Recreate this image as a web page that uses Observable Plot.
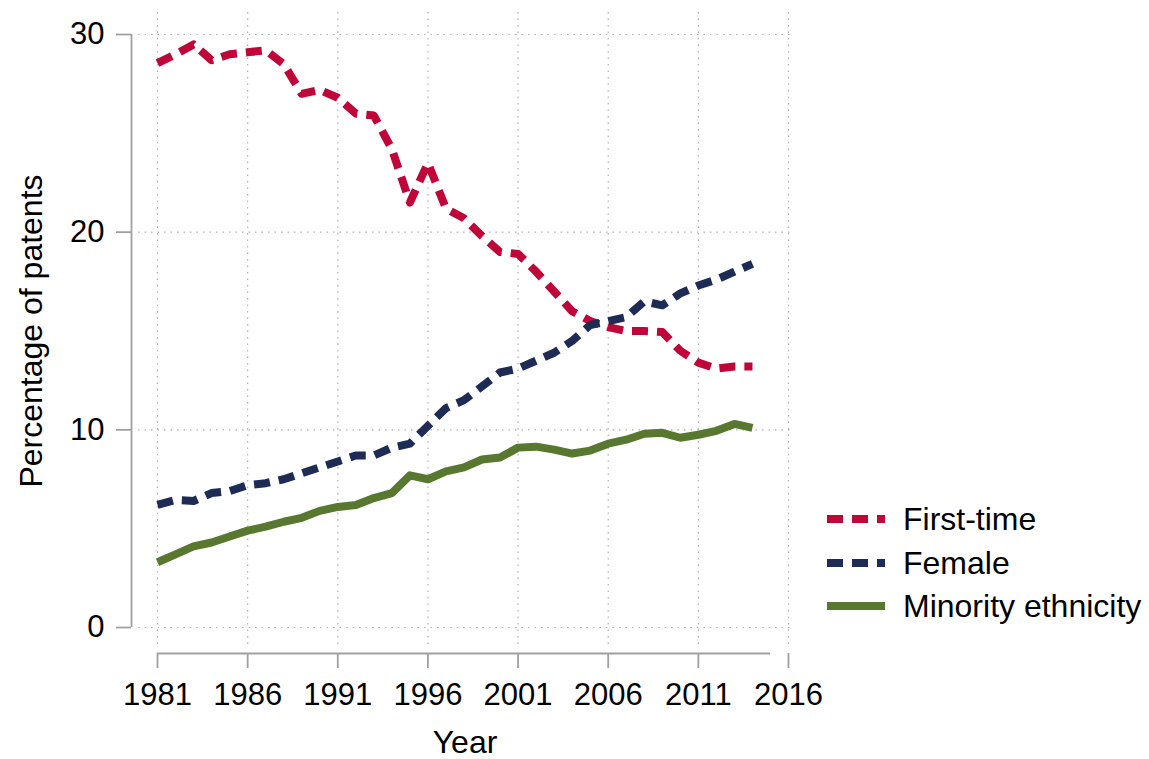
<!DOCTYPE html>
<html>
<head>
<meta charset="utf-8">
<script src="https://cdn.jsdelivr.net/npm/d3@7"></script>
<script src="https://cdn.jsdelivr.net/npm/@observablehq/plot@0.6"></script>
<style>
  html, body { margin: 0; padding: 0; background: #fff; }
  #wrap { position: relative; width: 1149px; height: 759px; font-family: "Liberation Sans", Arial, sans-serif; }
  #legend { position: absolute; left: 827px; top: 0; }
  .item { position: absolute; left: 0; height: 40px; display: flex; align-items: center; white-space: nowrap; font-size: 32px; color: #000; }
  .item svg { display: block; margin-right: 18px; }
</style>
</head>
<body>
<div id="wrap"><div id="legend"></div></div>
<script>
const years = [1981,1982,1983,1984,1985,1986,1987,1988,1989,1990,1991,1992,1993,1994,1995,1996,1997,1998,1999,2000,2001,2002,2003,2004,2005,2006,2007,2008,2009,2010,2011,2012,2013,2014];
const firstTime = [28.55,29.0,29.5,28.7,29.0,29.1,29.2,28.5,27.0,27.2,26.8,26.0,25.9,24.2,21.5,23.5,21.2,20.7,19.8,19.0,18.9,18.0,17.0,16.0,15.5,15.2,15.0,15.0,14.95,14.0,13.4,13.1,13.2,13.2];
const female = [6.2,6.45,6.4,6.8,6.9,7.2,7.3,7.5,7.8,8.1,8.4,8.7,8.7,9.1,9.3,10.2,11.1,11.5,12.2,12.9,13.1,13.5,13.9,14.5,15.3,15.5,15.7,16.5,16.3,16.9,17.3,17.6,18.0,18.4];
const minority = [3.3,3.7,4.1,4.3,4.6,4.9,5.1,5.35,5.55,5.9,6.1,6.2,6.55,6.8,7.7,7.5,7.9,8.1,8.5,8.6,9.1,9.15,9.0,8.8,8.95,9.3,9.5,9.8,9.85,9.6,9.75,9.95,10.3,10.1];
const seriesNames = ["First-time", "Female", "Minority ethnicity"];
const seriesColors = ["#c00538", "#1d2b55", "#587830"];
const seriesDash = ["16,9", "16,9", null];
const xTicks = [1981,1986,1991,1996,2001,2006,2011,2016];
const yTicks = [0,10,20,30];
const xLabel = "Year";
const yLabel = "Percentage of patents";

const seriesValues = [firstTime, female, minority];
const rows = seriesValues.map((vals, i) => years.map((yr, j) => ({year: yr, value: vals[j], series: seriesNames[i]})));

const gridStyle = {stroke: "#b0b0b0", strokeOpacity: 1, strokeWidth: 1.2, strokeDasharray: "1.5,5"};

const chart = Plot.plot({
  width: 1149,
  height: 759,
  marginLeft: 157,
  marginRight: 361,
  marginTop: 34,
  marginBottom: 132,
  style: {fontFamily: "'Liberation Sans', Arial, sans-serif", fontSize: "31px", background: "#fff", color: "#000"},
  x: {domain: [xTicks[0], xTicks[xTicks.length - 1]], label: null},
  y: {domain: [yTicks[0], yTicks[yTicks.length - 1]], label: null},
  marks: [
    Plot.gridY(yTicks, {...gridStyle, insetLeft: -19, insetRight: -4}),
    Plot.gridX(xTicks, {...gridStyle, insetTop: -22, insetBottom: -18}),
    // offset axis lines
    Plot.ruleX([xTicks[0]], {dx: -26, stroke: "#a0a0a0", strokeWidth: 1.8}),
    Plot.ruleY([yTicks[0]], {dy: 26, stroke: "#a0a0a0", strokeWidth: 1.8, insetRight: 18}),
    Plot.axisY(yTicks, {anchor: "left", dx: -26, tickSize: 15, tickPadding: 12, stroke: "#a0a0a0", strokeWidth: 1.8, fill: "#000", fontSize: 31, label: null}),
    Plot.axisX(xTicks, {anchor: "bottom", dy: 26, tickSize: 15, tickPadding: 14, stroke: "#a0a0a0", strokeWidth: 1.8, fill: "#000", fontSize: 31, label: null, tickFormat: d => String(d)}),
    ...rows.map((data, i) => Plot.line(data, {
      x: "year", y: "value",
      stroke: seriesColors[i],
      strokeWidth: 8,
      strokeDasharray: seriesDash[i],
      strokeLinecap: "butt",
      strokeLinejoin: "round"
    })),
    Plot.text([yLabel], {frameAnchor: "left", dx: -126, rotate: -90, textAnchor: "middle", lineAnchor: "middle", fontSize: 32, fill: "#000"}),
    Plot.text([xLabel], {frameAnchor: "bottom", dx: -8, dy: 115, textAnchor: "middle", lineAnchor: "middle", fontSize: 32, fill: "#000"})
  ]
});
document.getElementById("wrap").prepend(chart);

const legend = document.getElementById("legend");
const legendTops = [499, 543, 586];
seriesNames.forEach((name, i) => {
  const item = document.createElement("div");
  item.className = "item";
  item.style.top = legendTops[i] + "px";
  const dash = seriesDash[i] ? `stroke-dasharray="${seriesDash[i]}"` : "";
  item.innerHTML = `<svg width="58" height="10"><line x1="0" y1="5" x2="58" y2="5" stroke="${seriesColors[i]}" stroke-width="8" ${dash}/></svg><span>${name}</span>`;
  legend.appendChild(item);
});
</script>
</body>
</html>
